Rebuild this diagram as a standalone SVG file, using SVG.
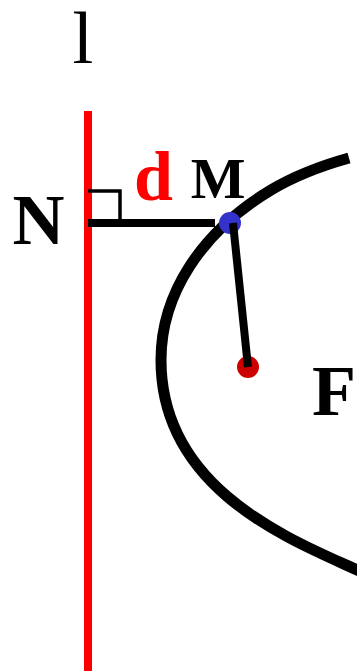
<svg xmlns="http://www.w3.org/2000/svg" width="357" height="671" viewBox="0 0 357 671">
<style>
.lbl{font-family:"Liberation Serif","Times New Roman",serif;text-anchor:middle}
.b{font-weight:bold}
.blk{stroke:#000;fill:none}
</style>
<rect width="357" height="671" fill="#fff"/>
<g id="directrix">
<line x1="88" y1="111" x2="88" y2="671" stroke="#ff0000" stroke-width="8"/>
</g>
<g id="curve">
<path class="blk" stroke-width="11" d="M 349 158 Q 302.9 170.9 271 190 A 302 220 0 0 0 161 360 C 161 500 312 547 372 577"/>
</g>
<g id="M-point">
<circle cx="230" cy="223" r="11" fill="#3333cc"/>
</g>
<g id="F-point">
<circle cx="248" cy="367" r="11" fill="#cc0000"/>
</g>
<g id="connectors">
<line class="blk" x1="88" y1="223" x2="215" y2="223" stroke-width="8"/>
<polyline class="blk" points="88,191 120,191 120,223" stroke-width="3.5"/>
<line class="blk" x1="233" y1="223" x2="248" y2="367" stroke-width="8"/>
</g>
<g id="labels">
<text class="lbl" x="83" y="63" font-size="75">l</text>
<text class="lbl b" x="38.5" y="244" font-size="72">N</text>
<text class="lbl b" x="153.5" y="200" font-size="70" fill="#ff0000">d</text>
<text class="lbl b" x="218" y="198" font-size="58">M</text>
<text class="lbl b" x="334" y="415" font-size="72">F</text>
</g>
</svg>
